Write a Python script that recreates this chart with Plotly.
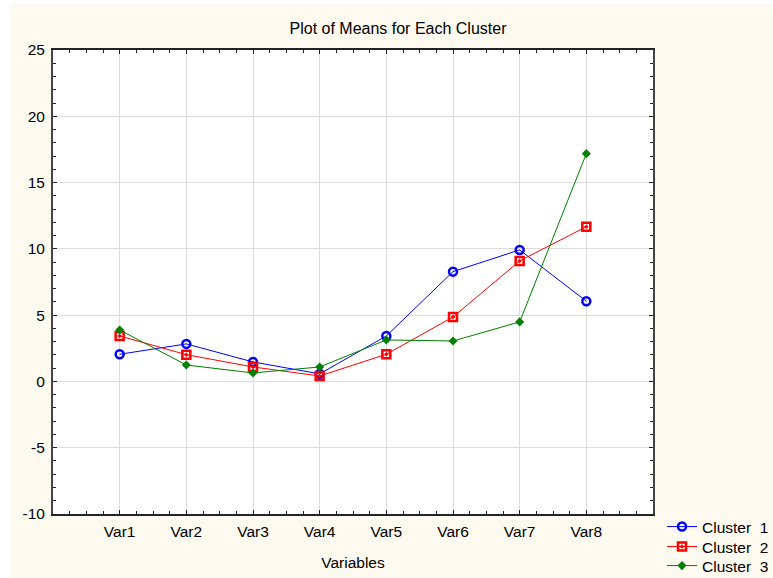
import plotly.graph_objects as go

categories = ["Var1", "Var2", "Var3", "Var4", "Var5", "Var6", "Var7", "Var8"]
cluster1 = [2.05, 2.83, 1.47, 0.57, 3.43, 8.28, 9.92, 6.05]
cluster2 = [3.43, 2.02, 1.09, 0.41, 2.05, 4.86, 9.09, 11.67]
cluster3 = [3.88, 1.24, 0.64, 1.09, 3.13, 3.05, 4.49, 17.18]
series_names = ["Cluster\u00a0 1", "Cluster\u00a0 2", "Cluster\u00a0 3"]
y_ticks = [-10, -5, 0, 5, 10, 15, 20, 25]

xpos = list(range(1, len(categories) + 1))
font = "Arial, Liberation Sans, sans-serif"

fig = go.Figure()
fig.add_trace(go.Scatter(
    x=xpos, y=cluster1, name=series_names[0], mode="lines+markers", legend="legend",
    line=dict(color="#0000FF", width=1),
    marker=dict(symbol="circle-open", size=8, color="#0000FF", line=dict(width=2.5, color="#0000FF")),
))
fig.add_trace(go.Scatter(
    x=xpos, y=cluster2, name=series_names[1], mode="lines+markers", legend="legend2",
    line=dict(color="#FF0000", width=1),
    marker=dict(symbol="square-open-dot", size=8, color="#FF0000", line=dict(width=2.5, color="#FF0000")),
))
fig.add_trace(go.Scatter(
    x=xpos, y=cluster3, name=series_names[2], mode="lines+markers", legend="legend3",
    line=dict(color="#007F00", width=1),
    marker=dict(symbol="diamond", size=7, color="#007F00", line=dict(width=0)),
))

L, R, T, B = 53, 120, 50, 64
W, H = 773, 578
pw, ph = W - L - R, H - T - B


def leg(top_px):
    return dict(xref="container", x=662 / W, xanchor="left",
                yref="container", y=1 - top_px / H, yanchor="top",
                bgcolor="rgba(0,0,0,0)", font=dict(size=15.5, family=font),
                tracegroupgap=0, itemwidth=30)


fig.update_layout(
    width=W, height=H,
    margin=dict(l=L, r=R, t=T, b=B, pad=0, autoexpand=False),
    paper_bgcolor="#FEFAF0",
    plot_bgcolor="#FFFFFF",
    font=dict(family=font, size=15.5, color="#000000"),
    title=dict(text="Plot of Means for Each Cluster", xref="container", x=398 / W, xanchor="center",
               yref="container", y=1 - 28 / H, yanchor="middle", font=dict(size=16, family=font)),
    showlegend=True,
    legend=leg(510),
    legend2=leg(530),
    legend3=leg(549),
    shapes=[
        dict(type="rect", xref="paper", yref="paper", x0=-L / pw - 0.01, x1=(10 - L) / pw,
             y0=-0.3, y1=1.3, fillcolor="#FFFFFF", line=dict(width=0), layer="below"),
        dict(type="rect", xref="paper", yref="paper", x0=-0.2, x1=1.3,
             y0=(ph + T - 4) / ph, y1=1.3, fillcolor="#FFFFFF", line=dict(width=0), layer="below"),
    ],
)

fig.update_xaxes(
    range=[0, 9], tickmode="array", tickvals=xpos, ticktext=categories, automargin=False,
    showgrid=True, gridcolor="#DCDCDC", gridwidth=1, zeroline=False,
    showline=True, linecolor="#222222", linewidth=1.5, mirror="allticks",
    ticks="inside", ticklen=4, tickcolor="#222222", tickwidth=1,
    minor=dict(dtick=0.25, tick0=0, ticks="inside", ticklen=3, tickcolor="#222222", showgrid=False),
    title=dict(text="Variables", font=dict(size=15.5, family=font), standoff=18),
    tickfont=dict(size=15.5, family=font), ticklabelstandoff=3,
)
fig.update_yaxes(
    range=[-10, 25], tickmode="array", tickvals=y_ticks, ticktext=[str(v) for v in y_ticks], automargin=False,
    showgrid=True, gridcolor="#DCDCDC", gridwidth=1, zeroline=False,
    showline=True, linecolor="#444444", linewidth=2, mirror="allticks",
    ticks="inside", ticklen=4, tickcolor="#222222", tickwidth=1,
    minor=dict(dtick=1, tick0=0, ticks="inside", ticklen=3, tickcolor="#222222", showgrid=False),
    tickfont=dict(size=15.5, family=font), ticklabelstandoff=3,
)

fig.write_html("out.html", config={"displayModeBar": False},
               post_script="document.body.style.margin='0';")
